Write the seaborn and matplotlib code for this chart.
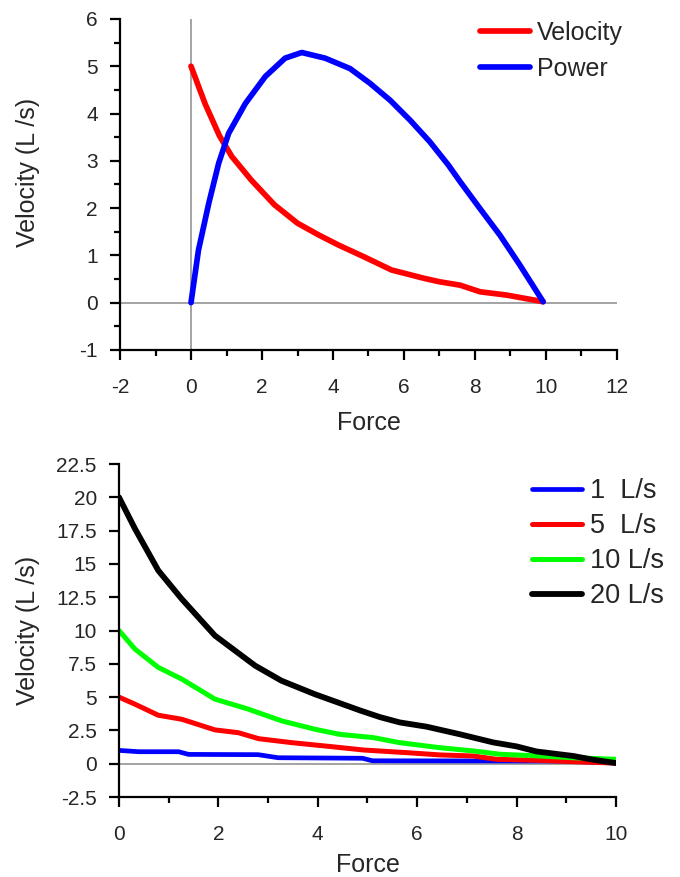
import matplotlib
matplotlib.use('Agg')
import matplotlib.pyplot as plt
import seaborn as sns
import pandas as pd
from matplotlib.ticker import MultipleLocator, FormatStrFormatter

# top panel: velocity and power vs force
vel_force = [0, 0.4, 0.8, 1.15, 1.7, 2.35, 3.0, 3.6, 4.15, 4.9, 5.65, 6.59, 7.01, 7.58, 8.14, 8.89, 9.92]
vel_vals = [5.0, 4.2, 3.53, 3.09, 2.59, 2.07, 1.68, 1.43, 1.22, 0.96, 0.69, 0.51, 0.44, 0.37, 0.23, 0.16, 0.02]
pow_force = [0, 0.21, 0.5, 0.78, 1.06, 1.53, 2.09, 2.65, 3.12, 3.78, 4.48, 5.04, 5.61, 6.17,
             6.73, 7.25, 7.58, 8.14, 8.7, 9.26, 9.92]
pow_vals = [0, 1.11, 2.1, 2.95, 3.58, 4.21, 4.78, 5.17, 5.29, 5.17, 4.95, 4.64, 4.28, 3.86,
            3.4, 2.91, 2.56, 1.99, 1.43, 0.8, 0.02]

# bottom panel: velocity curves for different Vmax
f_1 = [0, 0.4, 1.2, 1.4, 2.8, 3.2, 4.9, 5.1, 9.0, 10]
v_1 = [1.0, 0.9, 0.9, 0.7, 0.68, 0.45, 0.41, 0.22, 0.2, 0.05]
f_5 = [0, 0.32, 0.79, 1.26, 1.93, 2.4, 2.81, 3.48, 4.28, 4.92, 5.79, 6.46, 7.13, 7.6, 8.47, 9.14, 10]
v_5 = [5.0, 4.47, 3.64, 3.34, 2.54, 2.33, 1.88, 1.58, 1.28, 1.03, 0.83, 0.66, 0.58, 0.33, 0.25, 0.15, 0.05]
f_10 = [0, 0.32, 0.79, 1.26, 1.93, 2.6, 3.27, 3.94, 4.45, 5.12, 5.65, 6.46, 7.13, 7.67, 8.47, 9.14, 10]
v_10 = [10.0, 8.61, 7.23, 6.36, 4.85, 4.1, 3.22, 2.59, 2.2, 1.96, 1.58, 1.2, 0.96, 0.71, 0.58, 0.45, 0.33]
f_20 = [0, 0.32, 0.79, 1.26, 1.93, 2.74, 3.27, 3.94, 4.41, 4.85, 5.25, 5.65, 6.19, 6.86, 7.53, 8.0, 8.4, 9.14, 9.54, 10]
v_20 = [20.0, 17.65, 14.51, 12.38, 9.62, 7.36, 6.23, 5.22, 4.59, 4.0, 3.5, 3.1, 2.78, 2.21, 1.6, 1.3, 0.92, 0.58, 0.3, 0.05]

sns.set_style('ticks')
plt.rcParams['font.family'] = ['Liberation Sans', 'DejaVu Sans']
plt.rcParams['axes.unicode_minus'] = False

fig = plt.figure(figsize=(6.8, 8.77), dpi=100)
ax1 = fig.add_axes([0.1765, 0.601, 0.7308, 0.3774])
ax2 = fig.add_axes([0.175, 0.0912, 0.7308, 0.3797])

# ---- top
ax1.axhline(0, color='#8a8a8a', lw=1.1, zorder=1)
ax1.axvline(0, color='#8a8a8a', lw=1.1, zorder=1)
sns.lineplot(x=vel_force, y=vel_vals, color='#ff0000', lw=4.1, label='Velocity', ax=ax1, sort=False)
sns.lineplot(x=pow_force, y=pow_vals, color='#0000ff', lw=4.1, label='Power', ax=ax1, sort=False)
ax1.set_xlim(-2, 12)
ax1.set_ylim(-1, 6)
ax1.xaxis.set_major_locator(MultipleLocator(2))
ax1.xaxis.set_minor_locator(MultipleLocator(1))
ax1.yaxis.set_major_locator(MultipleLocator(1))
ax1.yaxis.set_minor_locator(MultipleLocator(0.5))
ax1.set_xlabel('Force', fontsize=18)
ax1.set_ylabel('Velocity (L /s)', fontsize=18)
ax1.yaxis.set_label_coords(-0.161, 0.535)
ax1.xaxis.set_label_coords(0.5, -0.184)
ax1.legend(loc='upper left', bbox_to_anchor=(0.724, 0.995), frameon=False, fontsize=18,
           handlelength=2.0, handletextpad=0.3, borderpad=0, borderaxespad=0, labelspacing=0.49)

# ---- bottom
ax2.axhline(0, color='#8a8a8a', lw=1.1, zorder=1)
sns.lineplot(x=f_1, y=v_1, color='#0000ff', lw=3.4, label='1  L/s', ax=ax2, sort=False)
sns.lineplot(x=f_5, y=v_5, color='#ff0000', lw=3.6, label='5  L/s', ax=ax2, sort=False)
sns.lineplot(x=f_10, y=v_10, color='#00ff00', lw=3.6, label='10 L/s', ax=ax2, sort=False)
sns.lineplot(x=f_20, y=v_20, color='#000000', lw=4.2, label='20 L/s', ax=ax2, sort=False)
ax2.set_xlim(0, 10)
ax2.set_ylim(-2.5, 22.5)
ax2.xaxis.set_major_locator(MultipleLocator(2))
ax2.xaxis.set_minor_locator(MultipleLocator(1))
ax2.yaxis.set_major_locator(MultipleLocator(2.5))
ax2.yaxis.set_major_formatter(FormatStrFormatter('%g'))
ax2.set_xlabel('Force', fontsize=18)
ax2.set_ylabel('Velocity (L /s)', fontsize=18)
ax2.yaxis.set_label_coords(-0.159, 0.5)
ax2.xaxis.set_label_coords(0.5, -0.168)
ax2.legend(loc='upper left', bbox_to_anchor=(0.831, 0.957), frameon=False, fontsize=19.5,
           handlelength=1.85, handletextpad=0.3, borderpad=0, borderaxespad=0, labelspacing=0.33)

for ax in (ax1, ax2):
    sns.despine(ax=ax)
    for s in ('left', 'bottom'):
        ax.spines[s].set_linewidth(1.6)
        ax.spines[s].set_color('black')
    ax.tick_params(which='major', length=7, width=1.6, labelsize=15, color='black')
    ax.tick_params(which='minor', length=4.5, width=1.6, color='black')
    ax.tick_params(axis='x', which='major', pad=13)
    ax.tick_params(axis='y', which='major', pad=9)
    ax.set_facecolor('white')

fig.savefig('out.png', dpi=100, facecolor='white')
